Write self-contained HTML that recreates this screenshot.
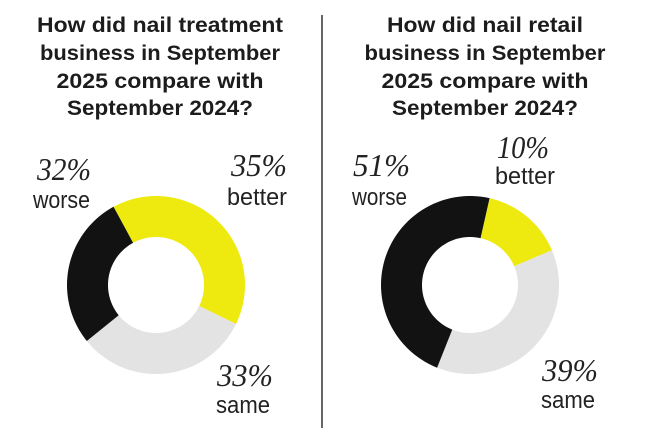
<!DOCTYPE html>
<html><head><meta charset="utf-8"><style>
html,body{margin:0;padding:0;background:#fff;}
svg{display:block}
.t{font-family:"Liberation Sans",sans-serif;font-weight:bold;font-size:21px;fill:#1c1c1c}
.p{font-family:"Liberation Serif",serif;font-style:italic;font-size:32px;fill:#222}
.l{font-family:"Liberation Sans",sans-serif;font-size:24px;fill:#222}
</style></head><body>
<svg id="s" width="650" height="441" viewBox="0 0 650 441">
<rect width="650" height="441" fill="#fff"/>
<g class="t" text-anchor="middle">
<text x="160" y="32" textLength="246" lengthAdjust="spacingAndGlyphs">How did nail treatment</text>
<text x="160" y="60" textLength="240" lengthAdjust="spacingAndGlyphs">business in September</text>
<text x="160" y="88" textLength="207" lengthAdjust="spacingAndGlyphs">2025 compare with</text>
<text x="160" y="115" textLength="186" lengthAdjust="spacingAndGlyphs">September 2024?</text>
<text x="485" y="32" textLength="196" lengthAdjust="spacingAndGlyphs">How did nail retail</text>
<text x="485" y="60" textLength="241" lengthAdjust="spacingAndGlyphs">business in September</text>
<text x="485" y="88" textLength="207" lengthAdjust="spacingAndGlyphs">2025 compare with</text>
<text x="485" y="115" textLength="186" lengthAdjust="spacingAndGlyphs">September 2024?</text>
</g>
<line x1="322" y1="15" x2="322" y2="428" stroke="#666" stroke-width="2"/>
<g id="d"></g>
<g class="p">
<text x="37" y="180" textLength="54" lengthAdjust="spacingAndGlyphs">32%</text>
<text x="231" y="176" textLength="56" lengthAdjust="spacingAndGlyphs">35%</text>
<text x="217" y="386" textLength="56" lengthAdjust="spacingAndGlyphs">33%</text>
<text x="353" y="176" textLength="57" lengthAdjust="spacingAndGlyphs">51%</text>
<text x="497" y="158" textLength="52" lengthAdjust="spacingAndGlyphs">10%</text>
<text x="542" y="381" textLength="56" lengthAdjust="spacingAndGlyphs">39%</text>
</g>
<g class="l">
<text x="33" y="208" textLength="57" lengthAdjust="spacingAndGlyphs">worse</text>
<text x="227" y="205" textLength="60" lengthAdjust="spacingAndGlyphs">better</text>
<text x="216" y="413" textLength="54" lengthAdjust="spacingAndGlyphs">same</text>
<text x="352" y="205" textLength="55" lengthAdjust="spacingAndGlyphs">worse</text>
<text x="495" y="184" textLength="60" lengthAdjust="spacingAndGlyphs">better</text>
<text x="541" y="408" textLength="54" lengthAdjust="spacingAndGlyphs">same</text>
</g>
</svg>
<script>
function pt(cx,cy,r,a){a=a*Math.PI/180;return [cx+r*Math.sin(a),cy-r*Math.cos(a)];}
function seg(cx,cy,a0,a1,col){
 var R=89,r=48,n=60,d="";
 for(var i=0;i<=n;i++){var p=pt(cx,cy,R,a0+(a1-a0)*i/n);d+=(i?"L":"M")+p[0].toFixed(2)+" "+p[1].toFixed(2);}
 for(var i=n;i>=0;i--){var p=pt(cx,cy,r,a0+(a1-a0)*i/n);d+="L"+p[0].toFixed(2)+" "+p[1].toFixed(2);}
 d+="Z";
 var e=document.createElementNS("http://www.w3.org/2000/svg","path");
 e.setAttribute("d",d);e.setAttribute("fill",col);
 document.getElementById("d").appendChild(e);
}
var Y="#eeea10",K="#121212",G="#e3e3e3";
seg(156,285,-28.5,116,Y);seg(156,285,116,231,G);seg(156,285,231,331.5,K);
seg(470,285,12.7,67,Y);seg(470,285,67,201.7,G);seg(470,285,201.7,372.7,K);
</script>
</body></html>
